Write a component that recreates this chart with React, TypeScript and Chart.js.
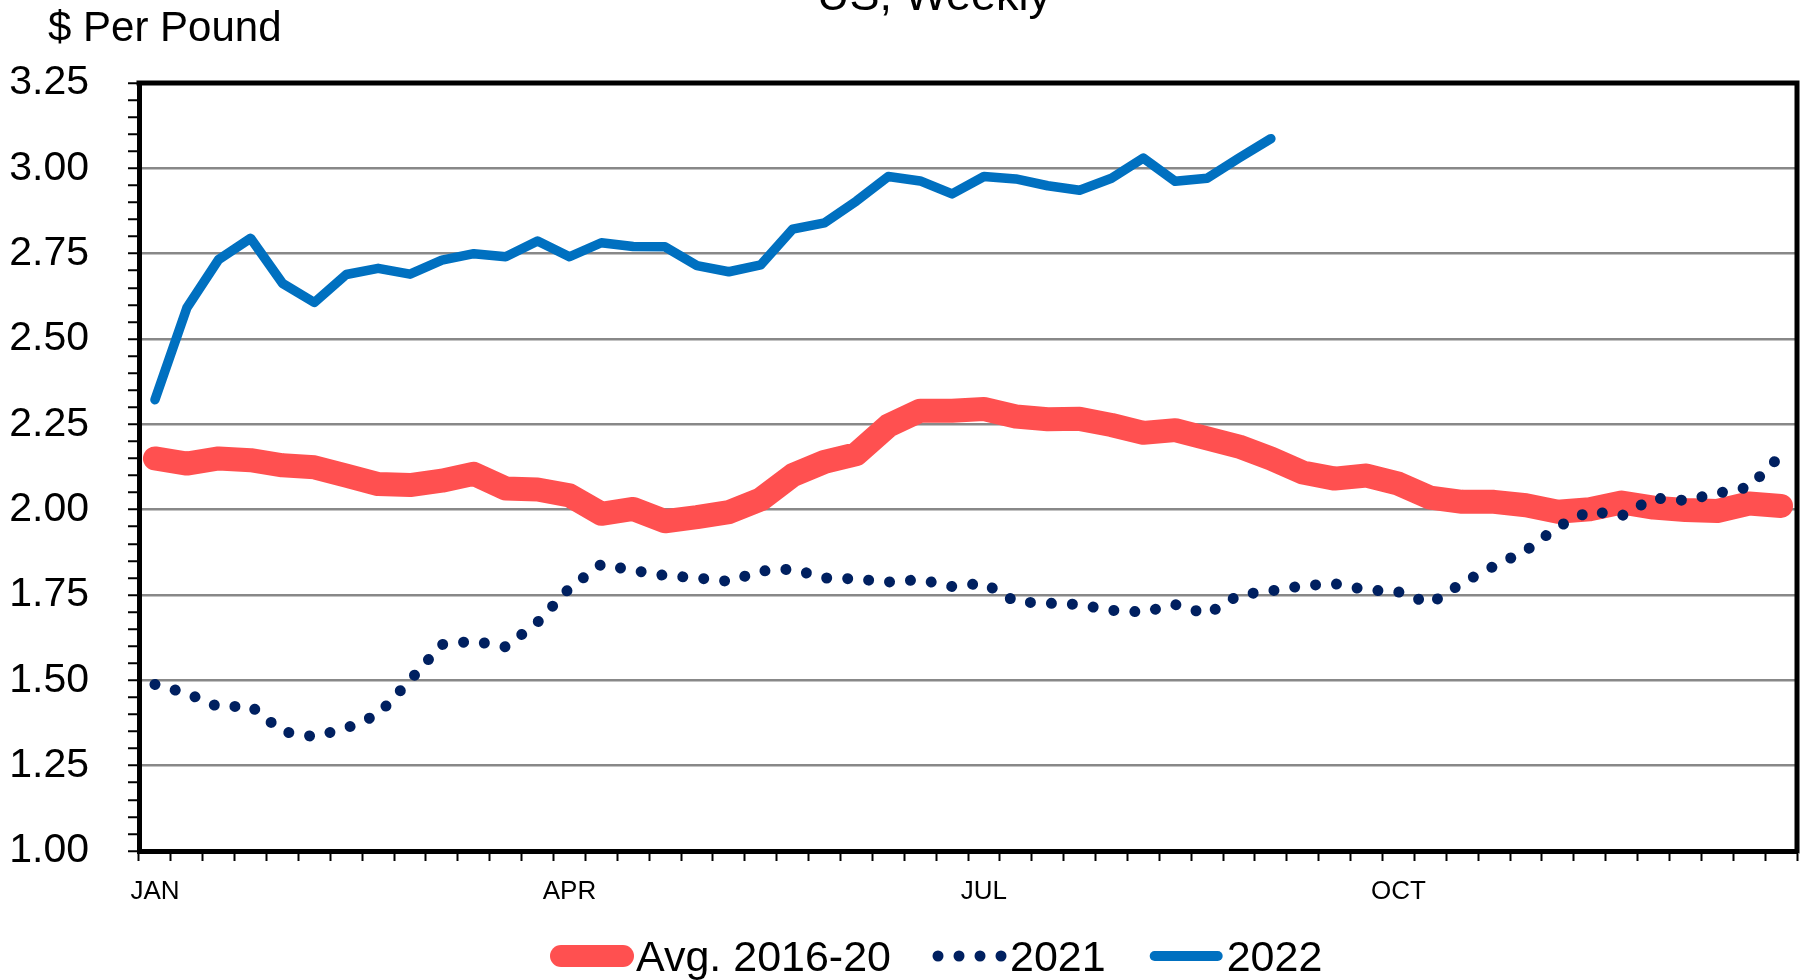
import React, { useEffect, useRef } from 'react';
import { Chart, registerables } from 'chart.js';

Chart.register(...registerables);

const FONT = "'Liberation Sans', Arial, sans-serif";

const titleText = 'US, Weekly';
const yAxisTitle = '$ Per Pound';

// 52 weekly categories
const weeks = Array.from({ length: 52 }, (_, i) => `W${i + 1}`);
const monthTicks = ['JAN', 'APR', 'JUL', 'OCT'];
const monthTickWeeks = [0, 13, 26, 39];

const seriesNames = ['Avg. 2016-20', '2021', '2022'];

const avg2016_20 = [
  2.15, 2.135, 2.15, 2.145, 2.13, 2.124, 2.1, 2.075, 2.072, 2.085,
  2.105, 2.062, 2.059, 2.042, 1.988, 2.002, 1.966, 1.978, 1.993, 2.03,
  2.101, 2.14, 2.163, 2.246, 2.29, 2.29, 2.295, 2.273, 2.265, 2.266,
  2.248, 2.225, 2.233, 2.209, 2.185, 2.15, 2.109, 2.091, 2.1, 2.076,
  2.035, 2.023, 2.023, 2.013, 1.994, 2.001, 2.021, 2.006, 1.999, 1.996,
  2.018, 2.011,
];

const y2021 = [
  1.488, 1.462, 1.422, 1.425, 1.35, 1.335, 1.36, 1.4, 1.5, 1.605,
  1.615, 1.598, 1.67, 1.77, 1.84, 1.822, 1.807, 1.8, 1.79, 1.82,
  1.826, 1.8, 1.797, 1.788, 1.795, 1.775, 1.785, 1.73, 1.726, 1.722,
  1.705, 1.7, 1.722, 1.694, 1.75, 1.762, 1.777, 1.783, 1.765, 1.759,
  1.725, 1.785, 1.835, 1.88, 1.95, 1.996, 1.982, 2.034, 2.027, 2.048,
  2.066, 2.16,
];

const y2022 = [
  2.322, 2.591, 2.733, 2.795, 2.663, 2.607, 2.689, 2.707, 2.69, 2.731,
  2.75, 2.741, 2.787, 2.741, 2.782, 2.771, 2.77, 2.715, 2.697, 2.717,
  2.822, 2.84, 2.904, 2.976, 2.963, 2.925, 2.976, 2.969, 2.949, 2.936,
  2.971, 3.03, 2.962, 2.971, 3.03, 3.087,
];

const RED = '#FF5050';
const NAVY = '#002060';
const BLUE = '#0070C0';
const GRID = '#888888';

const isMajor = (v: number) => Math.abs(v * 4 - Math.round(v * 4)) < 1e-6;

const overlayPlugin = {
  id: 'overlay',
  afterDraw(chart: any) {
    const ctx = chart.ctx as CanvasRenderingContext2D;
    const a = chart.chartArea;
    ctx.save();
    // top & right frame
    ctx.strokeStyle = '#000';
    ctx.lineWidth = 5;
    ctx.lineCap = 'square';
    ctx.beginPath();
    ctx.moveTo(a.left, a.top);
    ctx.lineTo(a.right, a.top);
    ctx.lineTo(a.right, a.bottom);
    ctx.stroke();

    // title (partly cut off at top)
    ctx.fillStyle = '#000';
    ctx.textBaseline = 'alphabetic';
    ctx.textAlign = 'center';
    ctx.font = `45px ${FONT}`;
    ctx.fillText(titleText, 934, 10);

    // y axis title
    ctx.textAlign = 'left';
    ctx.font = `42px ${FONT}`;
    ctx.fillText(yAxisTitle, 48, 41);

    // legend
    const cy = 956;
    const by = 971;
    ctx.font = `43px ${FONT}`;
    let x = 550;
    // red swatch
    ctx.strokeStyle = RED;
    ctx.lineCap = 'round';
    ctx.lineWidth = 22;
    ctx.beginPath();
    ctx.moveTo(x + 11, cy);
    ctx.lineTo(x + 84 - 11, cy);
    ctx.stroke();
    x += 86;
    ctx.fillStyle = '#000';
    ctx.fillText(seriesNames[0], x, by);
    x += ctx.measureText(seriesNames[0]).width + 41;
    // dotted swatch
    ctx.fillStyle = NAVY;
    for (let k = 0; k < 4; k++) {
      ctx.beginPath();
      ctx.arc(x + 6 + k * 21, cy, 5.5, 0, Math.PI * 2);
      ctx.fill();
    }
    x += 78;
    ctx.fillStyle = '#000';
    ctx.fillText(seriesNames[1], x, by);
    x += ctx.measureText(seriesNames[1]).width + 44;
    // blue swatch
    ctx.strokeStyle = BLUE;
    ctx.lineWidth = 10;
    ctx.beginPath();
    ctx.moveTo(x + 5, cy);
    ctx.lineTo(x + 73 - 5, cy);
    ctx.stroke();
    x += 77;
    ctx.fillStyle = '#000';
    ctx.fillText(seriesNames[2], x, by);
    ctx.restore();
  },
};

export default function App() {
  const ref = useRef<HTMLCanvasElement | null>(null);

  useEffect(() => {
    if (!ref.current) return;
    Chart.defaults.font.family = FONT;
    const chart = new Chart(ref.current, {
      type: 'line',
      data: {
        labels: weeks,
        datasets: [
          {
            label: seriesNames[0],
            data: avg2016_20,
            borderColor: RED,
            backgroundColor: RED,
            borderWidth: 24,
            borderCapStyle: 'round',
            borderJoinStyle: 'round',
            pointRadius: 0,
            order: 3,
          },
          {
            label: seriesNames[1],
            data: y2021,
            borderColor: NAVY,
            backgroundColor: NAVY,
            borderWidth: 11,
            borderDash: [0.001, 21],
            borderCapStyle: 'round',
            borderJoinStyle: 'round',
            pointRadius: 0,
            order: 2,
          },
          {
            label: seriesNames[2],
            data: y2022,
            borderColor: BLUE,
            backgroundColor: BLUE,
            borderWidth: 9.5,
            borderCapStyle: 'round',
            borderJoinStyle: 'round',
            pointRadius: 0,
            order: 1,
          },
        ],
      },
      options: {
        responsive: false,
        animation: false,
        events: [],
        layout: { padding: { left: 0, top: 83, right: 6, bottom: 69 } },
        plugins: {
          legend: { display: false },
          title: { display: false },
          tooltip: { enabled: false },
        },
        elements: { point: { radius: 0 }, line: { tension: 0 } },
        scales: {
          x: {
            type: 'category',
            offset: true,
            grid: {
              offset: true,
              drawOnChartArea: false,
              drawTicks: true,
              tickLength: 10,
              tickColor: '#000',
              tickWidth: 2,
              color: '#000',
            },
            border: { color: '#000', width: 5 },
            ticks: {
              autoSkip: false,
              maxRotation: 0,
              minRotation: 0,
              padding: 15,
              color: '#000',
              font: { size: 26, family: FONT },
              callback: (_v: any, idx: number) => {
                const k = monthTickWeeks.indexOf(idx);
                return k >= 0 ? monthTicks[k] : '';
              },
            },
            afterFit: (s: any) => {
              s.height = 60;
            },
          },
          y: {
            min: 1,
            max: 3.25,
            grid: {
              color: (c: any) => (c.tick && isMajor(c.tick.value) ? GRID : 'rgba(0,0,0,0)'),
              lineWidth: 2.5,
              drawTicks: true,
              tickLength: 11,
              tickColor: '#000',
              tickWidth: 2,
            },
            border: { color: '#000', width: 5 },
            ticks: {
              stepSize: 0.05,
              autoSkip: false,
              padding: 39,
              color: '#000',
              font: { size: 41, family: FONT },
              callback: (v: any) => (isMajor(Number(v)) ? Number(v).toFixed(2) : ''),
            },
            afterFit: (s: any) => {
              s.width = 139;
            },
          },
        },
      },
      plugins: [overlayPlugin],
    } as any);
    return () => chart.destroy();
  }, []);

  return (
    <div style={{ position: 'absolute', left: 0, top: 0, width: 1803, height: 980, background: '#fff' }}>
      <canvas ref={ref} width={1803} height={980} style={{ display: 'block' }} />
    </div>
  );
}
